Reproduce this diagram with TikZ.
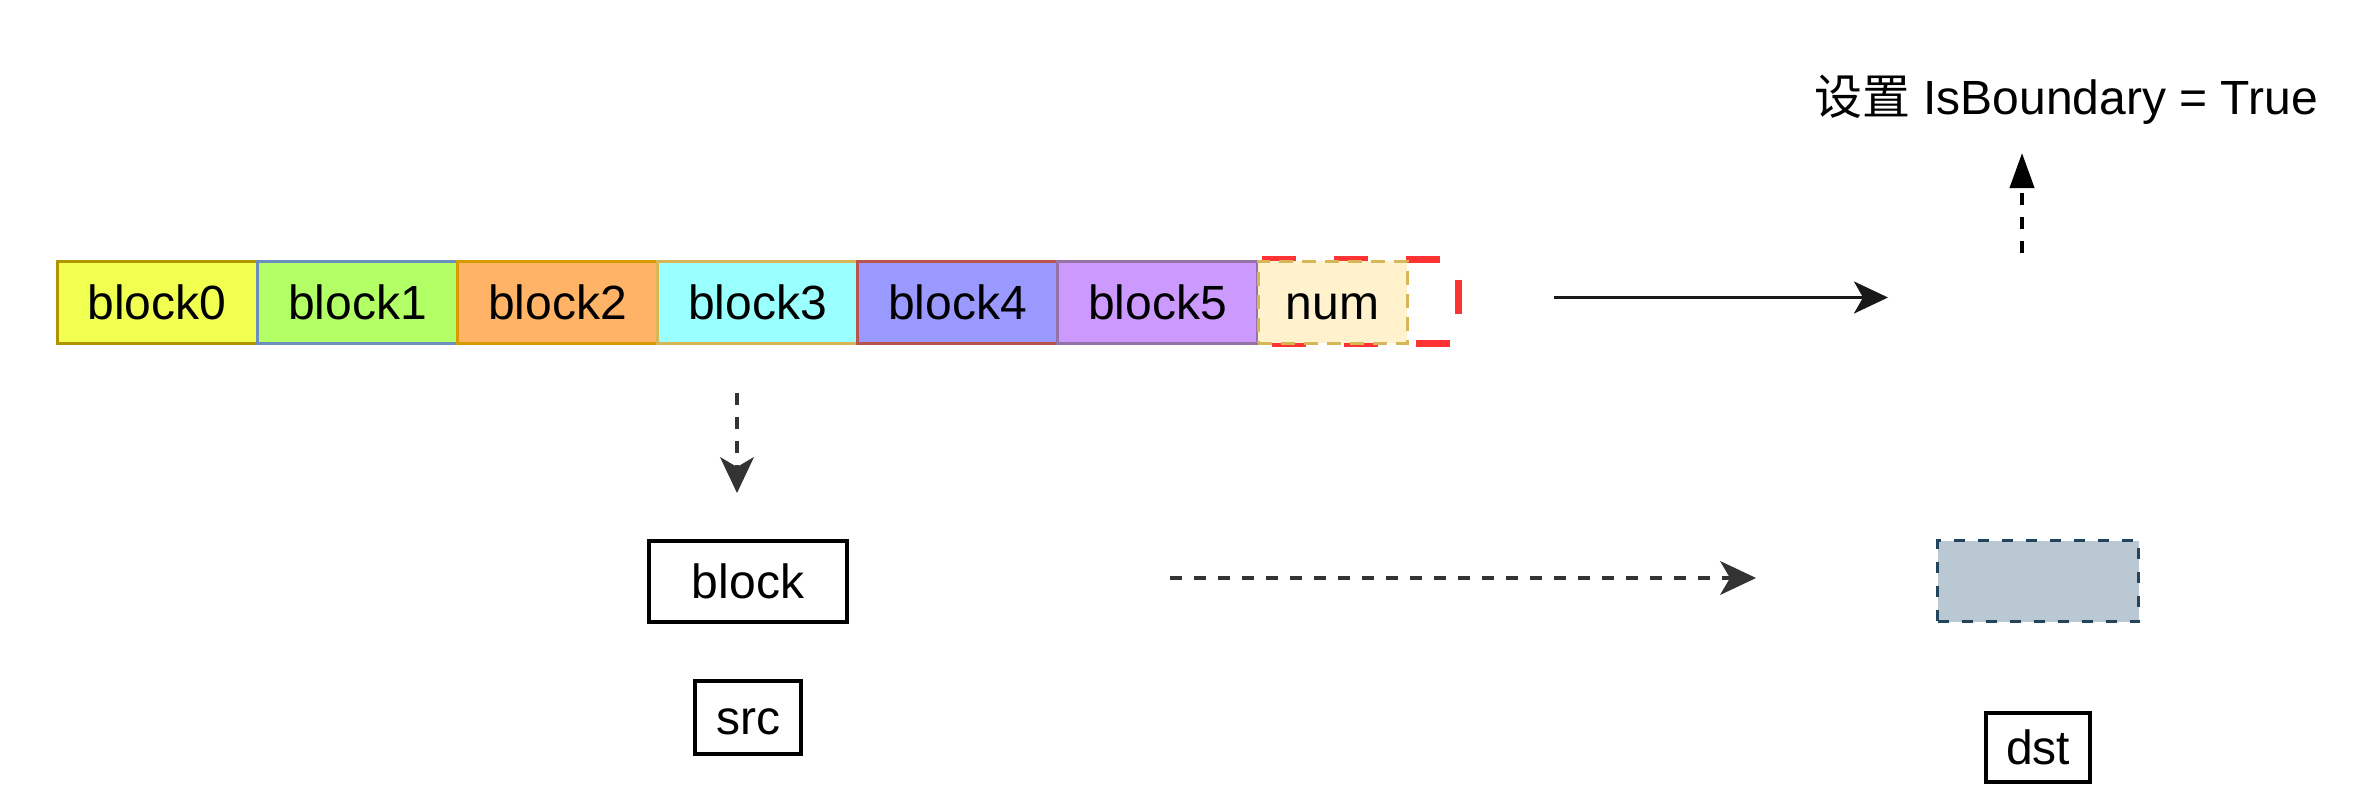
\documentclass[tikz,border=0pt]{standalone}
\usepackage{fontspec}
\setmainfont{Liberation Sans}
\newfontfamily\cjk{Noto Sans CJK SC}
\usetikzlibrary{arrows.meta}
\definecolor{f0}{HTML}{F1FF50}\definecolor{s0}{HTML}{B09500}
\definecolor{f1}{HTML}{B3FF66}\definecolor{s1}{HTML}{6C8EBF}
\definecolor{f2}{HTML}{FFB366}\definecolor{s2}{HTML}{D79B00}
\definecolor{f3}{HTML}{99FFFF}\definecolor{s3}{HTML}{D6B656}
\definecolor{f4}{HTML}{9999FF}\definecolor{s4}{HTML}{B85450}
\definecolor{f5}{HTML}{CC99FF}\definecolor{s5}{HTML}{9673A6}
\definecolor{fnum}{HTML}{FFF2CC}\definecolor{snum}{HTML}{D6B656}
\definecolor{redline}{HTML}{FF3333}
\definecolor{grayfill}{HTML}{BAC8D3}\definecolor{graystroke}{HTML}{23445D}
\definecolor{darkline}{HTML}{333333}
\newcommand\bigfont{\fontsize{48}{56}\selectfont}
\tikzset{
  blk/.style={draw, line width=3pt, minimum width=200pt, minimum height=82pt, inner sep=0pt,
    font=\bigfont, text height=34.5pt, text depth=0pt},
  plainbox/.style={draw=black, line width=4pt, fill=white, inner sep=0pt, font=\bigfont,
    text height=34.5pt, text depth=0pt},
  dasharrow/.style={draw=darkline, line width=4pt, dash pattern=on 12pt off 12pt,
    -{Stealth[length=36pt, width=34pt, inset=10pt, fill=darkline, line width=1pt]}},
}
\begin{document}
\begin{tikzpicture}[x=1pt,y=-1pt]
\useasboundingbox (0,0) rectangle (2368,808);
% red dashed frame (behind num)
\draw[redline, line width=7pt, dash pattern=on 34pt off 38pt]
  (1262,259.5) -- (1458,259.5) -- (1458,343.5) -- (1262,343.5) -- cycle;
% blocks
\node[blk, draw=s0, fill=f0] (b0) at (157,302) {block0};
\node[blk, draw=s1, fill=f1] (b1) at (357.5,302) {block1};
\node[blk, draw=s2, fill=f2] (b2) at (557.5,302) {block2};
\node[blk, draw=s3, fill=f3] (b3) at (757.5,302) {block3};
\node[blk, draw=s4, fill=f4] (b4) at (957.5,302) {block4};
\node[blk, draw=s5, fill=f5] (b5) at (1157.5,302) {block5};
\node[blk, draw=snum, fill=fnum, minimum width=149pt, dash pattern=on 14pt off 9pt] (num) at (1332.5,302) {num};
% lower boxes
\node[plainbox, minimum width=198pt, minimum height=81pt] (blockbox) at (748,581) {block};
\node[plainbox, minimum width=106pt, minimum height=73pt] (src) at (748,717.5) {src};
\node[draw=graystroke, fill=grayfill, line width=3pt, dash pattern=on 11pt off 13pt,
  minimum width=201pt, minimum height=81pt, inner sep=0pt] (dstbuf) at (2038,581) {};
\node[plainbox, minimum width=104pt, minimum height=69pt] (dst) at (2038,747.5) {dst};
% title
\node[font=\bigfont, anchor=base, inner sep=0pt] (title) at (2066,114) {{\cjk 设置} IsBoundary = True};
% connector end points
\coordinate (solidS) at (1554,297.5);
\coordinate (solidE) at (1888,297.5);
\coordinate (upS) at (2022,253);
\coordinate (upE) at (2022,153);
\coordinate (downS) at (737,393);
\coordinate (downE) at (737,493);
\coordinate (rightS) at (1170,578);
\coordinate (rightE) at (1756,578);
% connectors
\draw[line width=3pt, draw=black!90, -{Stealth[length=34pt, width=32pt, inset=9pt]}] (solidS) -- (solidE);
\draw[line width=4pt, draw=black, dash pattern=on 12pt off 12pt, -{Triangle[length=35pt, width=24pt]}] (upS) -- (upE);
\draw[dasharrow] (downS) -- (downE);
\draw[dasharrow] (rightS) -- (rightE);
\end{tikzpicture}
\end{document}
